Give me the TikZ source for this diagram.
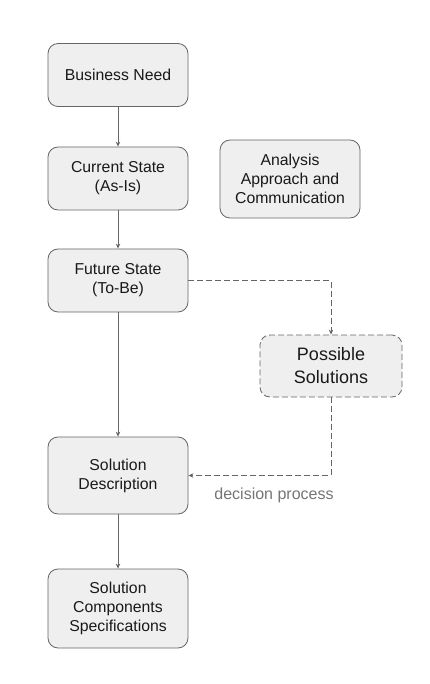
\documentclass[tikz,border=0pt]{standalone}
\usepackage{fontspec}
\setmainfont{Liberation Sans}
\usetikzlibrary{arrows.meta}
\definecolor{boxfill}{HTML}{EFEFEF}
\definecolor{boxline}{HTML}{666666}
\definecolor{labelgray}{HTML}{757575}
\begin{document}
\begin{tikzpicture}[x=1pt,y=-1pt,
  box/.style={draw=boxline, line width=0.8pt, fill=boxfill, rounded corners=10pt,
    minimum width=140pt, align=center, inner sep=0pt, text=black!90,
    font=\fontsize{15.8}{19}\selectfont},
  conn/.style={draw=boxline, line width=0.8pt, -{Stealth[length=5pt,width=4.5pt]}},
  dconn/.style={conn, dash pattern=on 6pt off 3pt}]
\useasboundingbox (0,0) rectangle (430,684);
\node[box, minimum height=63pt] (bn) at (118,75) {Business Need};
\node[box, minimum height=63pt] (cs) at (118,178.5) {Current State\\(As-Is)};
\node[box, minimum height=78pt] (aa) at (290,179) {Analysis\\Approach and\\Communication};
\node[box, minimum height=62pt, minimum width=142pt, dash pattern=on 6pt off 3pt,
  font=\fontsize{18}{23}\selectfont] (ps) at (331,366) {Possible\\Solutions};
\node[box, minimum height=63pt] (fs) at (118,280.5) {Future State\\(To-Be)};
\node[box, minimum height=77pt] (sd) at (118,475.5) {Solution\\Description};
\node[box, minimum height=79pt] (sc) at (118,608.5) {Solution\\Components\\Specifications};
\node[text=labelgray, font=\fontsize{16}{19}\selectfont, inner sep=0pt] (dp) at (274,495) {decision process};
\draw[conn] (bn) -- (cs);
\draw[conn] (cs) -- (fs);
\draw[conn] (fs) -- (sd);
\draw[conn] (sd) -- (sc);
\draw[dconn] (fs.east) -| (ps.north);
\draw[dconn] (ps.south) |- (sd.east);
\end{tikzpicture}
\end{document}
